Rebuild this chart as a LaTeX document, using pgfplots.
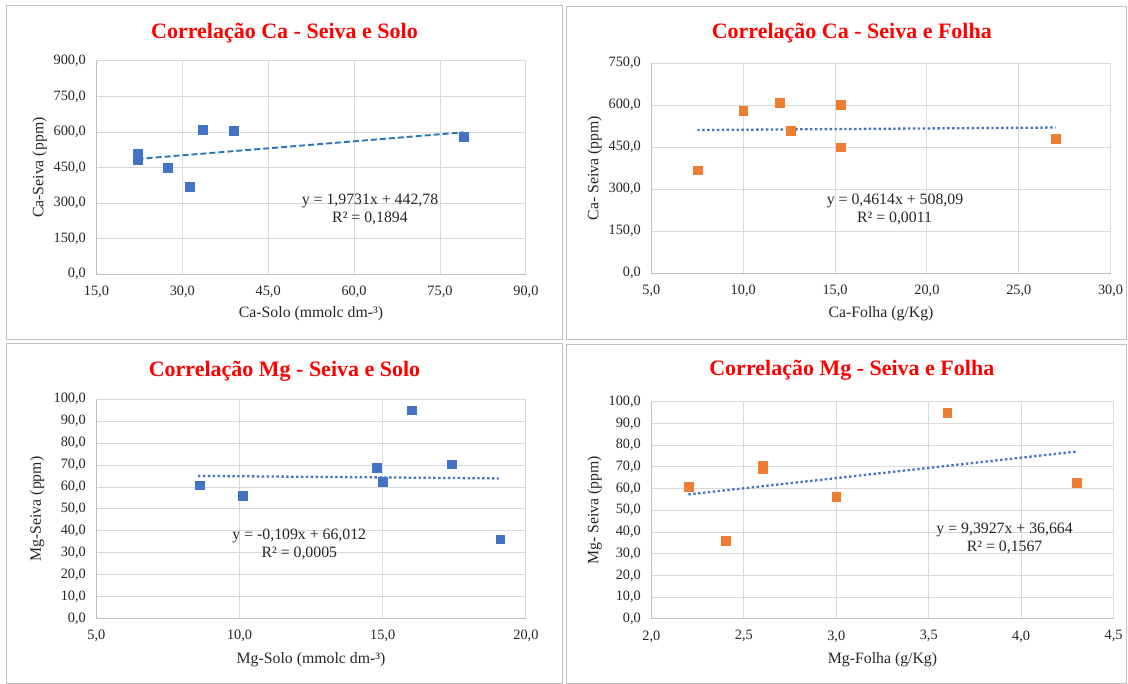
\documentclass[border=0pt]{standalone}
\usepackage{fontspec}
\setmainfont{Liberation Serif}
\usepackage{pgfplots}
\pgfplotsset{compat=1.18}
\definecolor{gridc}{RGB}{217,217,217}
\definecolor{axc}{RGB}{191,191,191}
\definecolor{framec}{RGB}{191,191,191}
\definecolor{mblue}{RGB}{68,114,196}
\definecolor{morange}{RGB}{237,125,49}
\definecolor{tblue}{RGB}{46,117,182}
\definecolor{tred}{RGB}{255,0,0}
\pgfplotsset{
  panel/.style={
    scale only axis, anchor=south west,
    axis lines=left, axis line style={draw=axc, line width=1pt, -},
    grid=major, grid style={draw=gridc, line width=1pt},
    major tick length=0pt, tick style={draw=none},
    scaled ticks=false,
    /pgf/number format/fixed, /pgf/number format/fixed zerofill,
    /pgf/number format/precision=1, /pgf/number format/use comma,
    /pgf/number format/assume math mode=true,
    ticklabel style={font=\fontsize{14.3}{16}\selectfont, text=black!85},
    yticklabel style={xshift=-7pt},
    xticklabel style={yshift=-8pt},
  },
  pts/.style={only marks, mark=square*, mark size=4.4pt, mark options={fill=#1, draw=#1}},
  dotted trend/.style={draw=mblue, line width=2.3pt, line cap=butt, dash pattern=on 2.4pt off 2.5pt},
}
\newcommand{\ttl}{\fontsize{22}{24}\selectfont\bfseries}
\newcommand{\lbl}{\fontsize{15.8}{18}\selectfont}
\begin{document}
\begin{tikzpicture}
\path[use as bounding box, fill=white] (0pt,0pt) rectangle (1128pt,684pt);
\draw[framec, line width=1pt] (6pt,344pt) rectangle (562pt,678pt);
\draw[framec, line width=1pt] (566pt,344pt) rectangle (1126pt,677pt);
\draw[framec, line width=1pt] (6pt,0.5pt) rectangle (562pt,340pt);
\draw[framec, line width=1pt] (566pt,0.5pt) rectangle (1126pt,339pt);

% Panel 1
\begin{axis}[panel, at={(96.4pt,409.7pt)}, width=429.5pt, height=213.3pt,
  xmin=15, xmax=90, ymin=0, ymax=900,
  xtick={15,30,45,60,75,90}, ytick={0,150,300,450,600,750,900}]
\addplot[draw=tblue, line width=1.9pt, dash pattern=on 6pt off 3pt] coordinates {(22.2,486.6) (79.1,598.9)};
\addplot[pts=mblue] coordinates {(22.2,509) (22.2,484) (27.4,450) (31.3,369) (33.6,611) (39.0,607) (79.1,581)};
\end{axis}

% Panel 2
\begin{axis}[panel, at={(651.4pt,410.7pt)}, width=459.2pt, height=210pt,
  xmin=5, xmax=30, ymin=0, ymax=750,
  xtick={5,10,15,20,25,30}, ytick={0,150,300,450,600,750}]
\addplot[dotted trend] coordinates {(7.5,511.55) (27.0,520.55)};
\addplot[pts=morange] coordinates {(7.5,368) (10.0,580) (12.0,610) (12.6,508) (15.3,603) (15.3,450) (27.0,482)};
\end{axis}

% Panel 3
\begin{axis}[panel, at={(96.4pt,65.3pt)}, width=429.5pt, height=219.4pt,
  xmin=5, xmax=20, ymin=0, ymax=100,
  xtick={5,10,15,20}, ytick={0,10,20,30,40,50,60,70,80,90,100}]
\addplot[dotted trend] coordinates {(8.55,65.08) (19.05,63.94)};
\addplot[pts=mblue] coordinates {(8.6,60.8) (10.1,56.2) (14.8,69.0) (15.0,62.6) (16.0,95.0) (17.4,70.4) (19.1,36.2)};
\end{axis}

% Panel 4
\begin{axis}[panel, at={(651.4pt,65.0pt)}, width=462.2pt, height=217.3pt,
  xmin=2, xmax=4.5, ymin=0, ymax=100,
  xtick={2,2.5,3,3.5,4,4.5}, ytick={0,10,20,30,40,50,60,70,80,90,100}]
\addplot[dotted trend] coordinates {(2.2,57.33) (4.3,77.05)};
\addplot[pts=morange] coordinates {(2.2,61.0) (2.4,36.2) (2.6,70.4) (2.6,69.0) (3.0,56.2) (3.6,95.0) (4.3,62.6)};
\end{axis}

% Titles
\node[anchor=base, font=\ttl, text=tred] at (284.5pt,645.7pt) {Correlação Ca - Seiva e Solo};
\node[anchor=base, font=\ttl, text=tred] at (851.8pt,645pt) {Correlação Ca - Seiva e Folha};
\node[anchor=base, font=\ttl, text=tred] at (284.5pt,307.7pt) {Correlação Mg - Seiva e Solo};
\node[anchor=base, font=\ttl, text=tred] at (851.8pt,308.3pt) {Correlação Mg - Seiva e Folha};

% x labels
\node[anchor=base, font=\lbl, text=black!85] at (311pt,366.2pt) {Ca-Solo (mmolc dm-³)};
\node[anchor=base, font=\lbl, text=black!85] at (881pt,366.7pt) {Ca-Folha (g/Kg)};
\node[anchor=base, font=\lbl, text=black!85] at (311pt,20.3pt) {Mg-Solo (mmolc dm-³)};
\node[anchor=base, font=\lbl, text=black!85] at (882.5pt,20.3pt) {Mg-Folha (g/Kg)};

% y labels
\node[rotate=90, font=\lbl, text=black!85] at (39.6pt,516.3pt) {Ca-Seiva (ppm)};
\node[rotate=90, font=\lbl, text=black!85] at (594.6pt,515.7pt) {Ca- Seiva (ppm)};
\node[rotate=90, font=\lbl, text=black!85] at (37pt,175pt) {Mg-Seiva (ppm)};
\node[rotate=90, font=\lbl, text=black!85] at (594.6pt,173.7pt) {Mg- Seiva (ppm)};

% equations
\node[anchor=base, font=\lbl, text=black!85] at (370pt,479.7pt) {y = 1,9731x + 442,78};
\node[anchor=base, font=\lbl, text=black!85] at (370pt,461pt) {R² = 0,1894};
\node[anchor=base, font=\lbl, text=black!85] at (895pt,479.7pt) {y = 0,4614x + 508,09};
\node[anchor=base, font=\lbl, text=black!85] at (894.5pt,461.7pt) {R² = 0,0011};
\node[anchor=base, font=\lbl, text=black!85] at (299.3pt,144.4pt) {y = -0,109x + 66,012};
\node[anchor=base, font=\lbl, text=black!85] at (299.3pt,126.7pt) {R² = 0,0005};
\node[anchor=base, font=\lbl, text=black!85] at (1004.6pt,150.7pt) {y = 9,3927x + 36,664};
\node[anchor=base, font=\lbl, text=black!85] at (1004.6pt,132.4pt) {R² = 0,1567};
\end{tikzpicture}
\end{document}
